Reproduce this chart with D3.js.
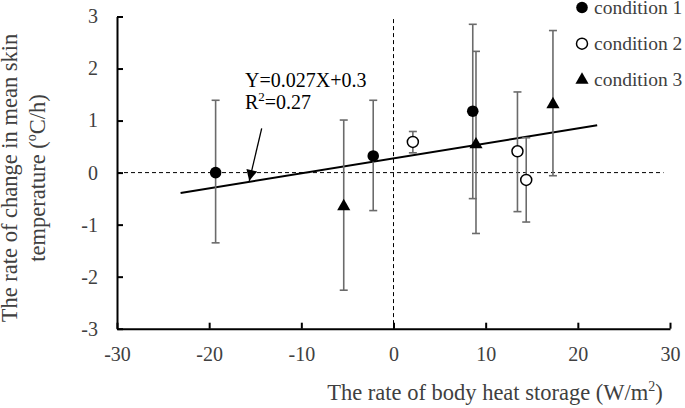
<!DOCTYPE html>
<html><head><meta charset="utf-8">
<script src="https://cdn.jsdelivr.net/npm/d3@7/dist/d3.min.js"></script>
<style>
html,body{margin:0;padding:0;background:#fff;}
svg{display:block;}
svg text{font-family:"Liberation Serif","Times New Roman",serif;}
</style></head>
<body>
<svg id="chart" width="685" height="408"></svg>
<script>
// ---- data ----
const seriesNames = ["condition 1", "condition 2", "condition 3"];
const cond1X = [-19.3, -2.2, 8.6];
const cond1Y = [0.0, 0.32, 1.18];
const cond1Hi = [1.39, 1.39, 2.85];
const cond1Lo = [-1.35, -0.73, -0.50];
const cond2X = [2.1, 13.45, 14.4];
const cond2Y = [0.59, 0.41, -0.14];
const cond2Hi = [0.79, 1.55, 0.67];
const cond2Lo = [0.38, -0.75, -0.95];
const cond3X = [-5.4, 8.95, 17.3];
const cond3Y = [-0.65, 0.54, 1.31];
const cond3Hi = [1.01, 2.33, 2.73];
const cond3Lo = [-2.26, -1.17, -0.06];
const fitX = [-23.1, 22.1];
const fitY = [-0.39, 0.91];
const xTicks = [-30, -20, -10, 0, 10, 20, 30];
const yTicks = [-3, -2, -1, 0, 1, 2, 3];
const eqLine1 = "Y=0.027X+0.3";
const eqR2 = "0.27";
const arrowFrom = [-14.3, 0.85];
const arrowTo = [-15.65, -0.16];

const svg = d3.select("#chart");
const x = d3.scaleLinear().domain([-30, 30]).range([117, 670]);
const y = d3.scaleLinear().domain([-3, 3]).range([328.7, 16.5]);
const textGrey = "#404040";
const serif = '"Liberation Serif","Times New Roman",serif';

// dashed reference lines
svg.append("line").attr("x1", x(-30)).attr("x2", x(29.3)).attr("y1", y(0)).attr("y2", y(0))
  .attr("stroke", "#000").attr("stroke-width", 1).attr("stroke-dasharray", "4,3");
svg.append("line").attr("x1", x(0)).attr("x2", x(0)).attr("y1", y(2.95)).attr("y2", y(-3))
  .attr("stroke", "#000").attr("stroke-width", 1).attr("stroke-dasharray", "4,3");

// axes
const yAxis = d3.axisLeft(y).tickValues(yTicks).tickSizeInner(-6).tickSizeOuter(0).tickPadding(19)
  .tickFormat(d3.format("d"));
const xAxis = d3.axisBottom(x).tickValues(xTicks).tickSizeInner(-6).tickSizeOuter(0).tickPadding(18)
  .tickFormat(d3.format("d"));
const gy = svg.append("g").attr("transform", `translate(${x(-30)},0)`).call(yAxis);
const gx = svg.append("g").attr("transform", `translate(0,${y(-3)})`).call(xAxis);
[gx, gy].forEach(g => {
  g.attr("font-family", null).attr("font-size", null);
  g.select(".domain").attr("stroke", "#000").attr("stroke-width", 2);
  g.selectAll(".tick line").attr("stroke", "#000").attr("stroke-width", 2);
  g.selectAll(".tick text").attr("fill", textGrey)
    .style("font-family", serif).style("font-size", "20px")
    .text(d => d < 0 ? "-" + Math.abs(d) : d);
});

// regression line
svg.append("line").attr("x1", x(fitX[0])).attr("y1", y(fitY[0])).attr("x2", x(fitX[1])).attr("y2", y(fitY[1]))
  .attr("stroke", "#000").attr("stroke-width", 2);

// series
const series = [
  {name: seriesNames[0], xs: cond1X, ys: cond1Y, hi: cond1Hi, lo: cond1Lo, shape: "filled"},
  {name: seriesNames[1], xs: cond2X, ys: cond2Y, hi: cond2Hi, lo: cond2Lo, shape: "open"},
  {name: seriesNames[2], xs: cond3X, ys: cond3Y, hi: cond3Hi, lo: cond3Lo, shape: "tri"}
];
const errColor = "#6b6b6b";
series.forEach(s => {
  const g = svg.append("g");
  s.xs.forEach((xv, i) => {
    const cx = x(xv);
    g.append("line").attr("x1", cx).attr("x2", cx).attr("y1", y(s.hi[i])).attr("y2", y(s.lo[i]))
      .attr("stroke", errColor).attr("stroke-width", 1.6);
    [s.hi[i], s.lo[i]].forEach(v => {
      g.append("line").attr("x1", cx - 4).attr("x2", cx + 4).attr("y1", y(v)).attr("y2", y(v))
        .attr("stroke", errColor).attr("stroke-width", 1.6);
    });
  });
});
function drawMarker(g, shape, cx, cy) {
  if (shape === "filled") {
    g.append("circle").attr("cx", cx).attr("cy", cy).attr("r", 5.8).attr("fill", "#000");
  } else if (shape === "open") {
    g.append("circle").attr("cx", cx).attr("cy", cy).attr("r", 5.5).attr("fill", "#fff")
      .attr("stroke", "#000").attr("stroke-width", 1.5);
  } else {
    g.append("path").attr("d", d3.symbol().type(d3.symbolTriangle).size(75)())
      .attr("transform", `translate(${cx},${cy})`).attr("fill", "#000");
  }
}
series.forEach(s => {
  const g = svg.append("g");
  s.xs.forEach((xv, i) => drawMarker(g, s.shape, x(xv), y(s.ys[i])));
});

// legend
const leg = svg.append("g");
series.forEach((s, i) => {
  const cy = 7.5 + i * 36.2;
  drawMarker(leg, s.shape, 582, cy);
  leg.append("text").attr("x", 594).attr("y", cy + 6).style("font-size", "19.5px")
    .attr("fill", textGrey).text(s.name);
});

// equation annotation
svg.append("text").attr("x", 245).attr("y", 86.7).style("font-size", "20px").attr("fill", "#000").text(eqLine1);
const r2 = svg.append("text").attr("x", 245).attr("y", 109.3).style("font-size", "20px").attr("fill", "#000");
r2.append("tspan").text("R");
r2.append("tspan").style("font-size", "13px").attr("dy", -8).text("2");
r2.append("tspan").attr("dy", 8).text("=" + eqR2);

// arrow
svg.append("defs").append("marker").attr("id", "ah").attr("viewBox", "0 0 10 10")
  .attr("refX", 10).attr("refY", 5).attr("markerWidth", 14).attr("markerHeight", 11)
  .attr("markerUnits", "userSpaceOnUse").attr("orient", "auto")
  .append("path").attr("d", "M0,0 L10,5 L0,10 Z").attr("fill", "#000");
svg.append("line").attr("x1", x(arrowFrom[0])).attr("y1", y(arrowFrom[1]))
  .attr("x2", x(arrowTo[0])).attr("y2", y(arrowTo[1]))
  .attr("stroke", "#000").attr("stroke-width", 1.3).attr("marker-end", "url(#ah)");

// axis titles
svg.append("text").attr("x", 495).attr("y", 400).attr("text-anchor", "middle").style("font-size", "22.5px")
  .attr("fill", textGrey)
  .call(t => {
    t.append("tspan").text("The rate of body heat storage (W/m");
    t.append("tspan").style("font-size", "14px").attr("dy", -9).text("2");
    t.append("tspan").attr("dy", 9).text(")");
  });
const yt = svg.append("text").attr("transform", "translate(0,178) rotate(-90)")
  .attr("text-anchor", "middle").style("font-size", "22.5px").attr("fill", textGrey);
yt.append("tspan").attr("x", 0).attr("y", 17).text("The rate of change in mean skin");
const l2 = yt.append("tspan").attr("x", 0).attr("y", 45);
l2.append("tspan").text("temperature (");
l2.append("tspan").style("font-size", "14px").attr("dy", -9).text("o");
l2.append("tspan").attr("dy", 9).text("C/h)");
</script>
</body></html>
